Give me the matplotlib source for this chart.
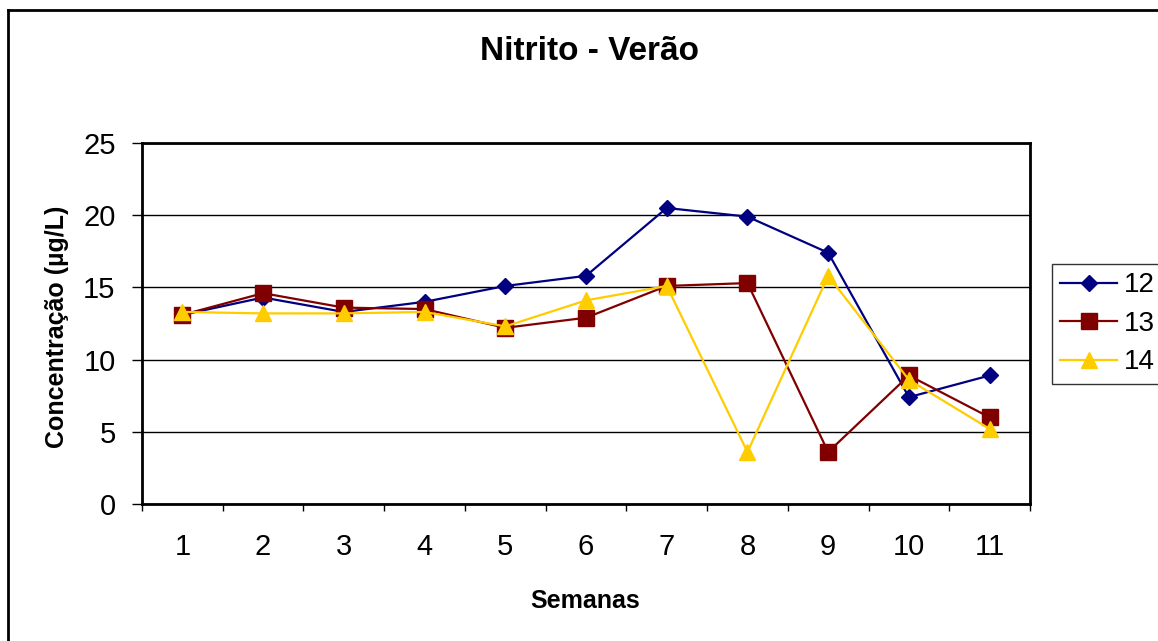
import matplotlib
matplotlib.use('Agg')
import matplotlib.pyplot as plt
from matplotlib.lines import Line2D
import numpy as np

plt.rcParams['font.family'] = ['Liberation Sans', 'DejaVu Sans']

semanas = [1, 2, 3, 4, 5, 6, 7, 8, 9, 10, 11]
s12 = [13.1, 14.3, 13.3, 14.0, 15.1, 15.8, 20.5, 19.9, 17.4, 7.4, 8.9]
s13 = [13.1, 14.6, 13.6, 13.5, 12.2, 12.9, 15.1, 15.3, 3.6, 8.9, 6.0]
s14 = [13.3, 13.2, 13.2, 13.3, 12.3, 14.1, 15.1, 3.6, 15.8, 8.6, 5.2]
yticks = [0, 5, 10, 15, 20, 25]

W, H = 1158, 641
fig = plt.figure(figsize=(W / 100, H / 100), dpi=100)
ax = fig.add_axes([142 / W, 1 - 504 / H, (1030 - 142) / W, (504 - 143) / H])

ax.plot(semanas, s12, color='#000080', lw=1.6, marker='D', ms=8, label='12')
ax.plot(semanas, s13, color='#800000', lw=1.6, marker='s', ms=11, label='13')
ax.plot(semanas, s14, color='#FFCC00', lw=1.6, marker='^', ms=11, label='14')

ax.set_xlim(0.5, 11.5)
ax.set_ylim(0, 25)
ax.set_yticks(yticks)
ax.set_xticks(semanas)
ax.set_xticks(np.arange(0.5, 12, 1), minor=True)
ax.tick_params(axis='x', which='major', length=0, pad=21, labelsize=21)
ax.tick_params(axis='x', which='minor', length=5, width=1, direction='out')
ax.tick_params(axis='y', length=7, width=1, direction='out', pad=12, labelsize=21)
ax.grid(axis='y', color='black', lw=1)
ax.set_axisbelow(True)
for sp in ax.spines.values():
    sp.set_linewidth(2)

fig.text(590 / W, 1 - 52 / H, 'Nitrito - Verão', ha='center', va='center',
         fontsize=24, fontweight='bold')
fig.text(57 / W, 1 - 327 / H, 'Concentração (µg/L)', ha='center', va='center',
         rotation=90, fontsize=18, fontweight='bold')
fig.text(585 / W, 1 - 601 / H, 'Semanas', ha='center', va='center',
         fontsize=18, fontweight='bold')

leg = ax.legend(loc='upper left', bbox_to_anchor=(1052 / W, 1 - 264 / H),
                bbox_transform=fig.transFigure, fontsize=20, frameon=True,
                fancybox=False, borderpad=0.3, handlelength=2.05,
                handletextpad=0.22, labelspacing=0.45, borderaxespad=0)
leg.get_frame().set_edgecolor('black')
leg.get_frame().set_linewidth(1)

# outer chart border
fig.add_artist(Line2D([8 / W, 8 / W], [0, 1 - 10 / H], color='black', lw=2,
                      transform=fig.transFigure))
fig.add_artist(Line2D([8 / W, 1], [1 - 10 / H, 1 - 10 / H], color='black', lw=2,
                      transform=fig.transFigure))

fig.savefig('out.png', dpi=100)
